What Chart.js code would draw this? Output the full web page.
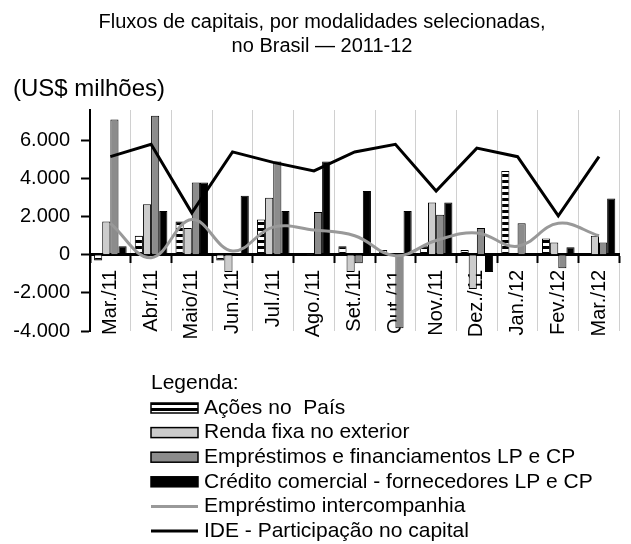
<!DOCTYPE html>
<html>
<head>
<meta charset="utf-8">
<script src="https://cdn.jsdelivr.net/npm/chart.js@4.4.1/dist/chart.umd.min.js"></script>
<style>
html,body{margin:0;padding:0;background:#fff;}
#wrap{width:631px;height:544px;}
</style>
</head>
<body>
<div id="wrap"><canvas id="c" width="631" height="544"></canvas></div>
<script>
const categories = ['Mar./11','Abr./11','Maio/11','Jun./11','Jul./11','Ago./11','Set./11','Out./11','Nov./11','Dez./11','Jan./12','Fev./12','Mar./12'];
const acoesNoPais = [-300, 1000, 1750, -300, 1850, 50, 450, 250, 450, 250, 4400, 850, 100];
const rendaFixaExterior = [1750, 2650, 1400, -900, 3000, 50, -900, 0, 2750, -1800, 0, 650, 1000];
const emprestimosFinanciamentos = [7100, 7300, 3800, 0, 4900, 2250, -450, -3850, 2100, 1400, 1650, -700, 650];
const creditoComercial = [450, 2300, 3800, 3100, 2300, 4900, 3350, 2300, 2750, -900, 100, 400, 2950];
const emprestimoIntercompanhia = [1650, -150, 1850, 200, 1450, 1300, 1000, -50, 750, 1150, 450, 1650, 1000];
const ideParticipacao = [5150, 5800, 2200, 5400, 4850, 4400, 5400, 5800, 3350, 5600, 5150, 2050, 5150];
const yTicks = [-4000, -2000, 0, 2000, 4000, 6000];
const seriesLabels = ['Ações no  País','Renda fixa no exterior','Empréstimos e financiamentos LP e CP','Crédito comercial - fornecedores LP e CP','Empréstimo intercompanhia','IDE - Participação no capital'];

const FONT = "'Liberation Sans', Arial, sans-serif";
Chart.defaults.font.family = FONT;
Chart.defaults.color = '#000';

const canvas = document.getElementById('c');
const ctx = canvas.getContext('2d');

function stripePattern(){
  const p = document.createElement('canvas');
  p.width = 4; p.height = 6;
  const g = p.getContext('2d');
  g.fillStyle = '#fff'; g.fillRect(0,0,4,6);
  g.fillStyle = '#000'; g.fillRect(0,0,4,3);
  return ctx.createPattern(p, 'repeat');
}

function fmt(v){
  const s = String(Math.abs(v)).replace(/\B(?=(\d{3})+(?!\d))/g, '.');
  return (v < 0 ? '-' : '') + s;
}

const barCommon = {type:'bar', borderColor:'#000', borderWidth:1, barPercentage:1, categoryPercentage:0.8, order:2};

const legendPlugin = {
  id:'sideLegend',
  afterDraw(chart){
    const c = chart.ctx;
    c.save();
    c.font = '21px ' + FONT;
    c.fillStyle = '#000';
    c.textBaseline = 'middle';
    c.textAlign = 'left';
    const x0 = 151, symW = 47, textX = 204;
    c.fillText('Legenda:', x0, 383);
    chart.data.datasets.forEach((ds, i) => {
      const y = 408 + i * 24.6;
      if (ds.type === 'bar') {
        c.fillStyle = ds.backgroundColor;
        c.fillRect(x0, y - 5, symW, 10);
        c.strokeStyle = '#000';
        c.lineWidth = 1.5;
        c.strokeRect(x0, y - 5, symW, 10);
      } else {
        c.strokeStyle = ds.borderColor;
        c.lineWidth = 3;
        c.beginPath();
        c.moveTo(x0, y);
        c.lineTo(x0 + symW, y);
        c.stroke();
      }
      c.fillStyle = '#000';
      c.fillText(ds.label, textX, y);
    });
    c.restore();
  }
};

new Chart(ctx, {
  type:'bar',
  data:{
    labels:categories,
    datasets:[
      Object.assign({}, barCommon, {label:seriesLabels[0], data:acoesNoPais, backgroundColor:stripePattern()}),
      Object.assign({}, barCommon, {label:seriesLabels[1], data:rendaFixaExterior, backgroundColor:'#cccccc'}),
      Object.assign({}, barCommon, {label:seriesLabels[2], data:emprestimosFinanciamentos, backgroundColor:'#8c8c8c'}),
      Object.assign({}, barCommon, {label:seriesLabels[3], data:creditoComercial, backgroundColor:'#000000'}),
      {type:'line', label:seriesLabels[4], data:emprestimoIntercompanhia, borderColor:'#999999', backgroundColor:'#999999', borderWidth:3, pointRadius:0, tension:0.4, fill:false, order:1},
      {type:'line', label:seriesLabels[5], data:ideParticipacao, borderColor:'#000000', backgroundColor:'#000000', borderWidth:3, pointRadius:0, tension:0, fill:false, order:0}
    ]
  },
  options:{
    responsive:false,
    animation:false,
    layout:{padding:{left:13, right:0, top:0, bottom:213}},
    plugins:{
      legend:{display:false},
      tooltip:{enabled:false},
      title:{
        display:true,
        text:['Fluxos de capitais, por modalidades selecionadas,','no Brasil — 2011-12'],
        color:'#000',
        font:{family:FONT, size:20, weight:'normal', lineHeight:1.2},
        padding:{top:10, bottom:8}
      },
      subtitle:{
        display:true,
        text:'(US$ milhões)',
        align:'start',
        color:'#000',
        font:{family:FONT, size:24, weight:'normal', lineHeight:1.2},
        padding:{top:8.6, bottom:6.6}
      }
    },
    scales:{
      x:{
        position:{y:0},
        grid:{color:'#d0d0d0', lineWidth:1, offset:true, drawTicks:true, tickLength:7, tickColor:'#000', tickWidth:2},
        border:{color:'#000', width:3},
        ticks:{minRotation:90, maxRotation:90, autoSkip:false, color:'#000', font:{size:20}, padding:8}
      },
      y:{
        min:-4000,
        max:7600,
        afterBuildTicks:(s) => { s.ticks = yTicks.map(v => ({value:v})); },
        afterFit:(s) => { s.width = 77; },
        grid:{drawOnChartArea:false, drawTicks:true, tickLength:9, tickColor:'#000', tickWidth:2},
        border:{color:'#000', width:2},
        ticks:{color:'#000', font:{size:20}, padding:11, callback:(v) => fmt(v)}
      }
    }
  },
  plugins:[legendPlugin]
});
</script>
</body>
</html>
